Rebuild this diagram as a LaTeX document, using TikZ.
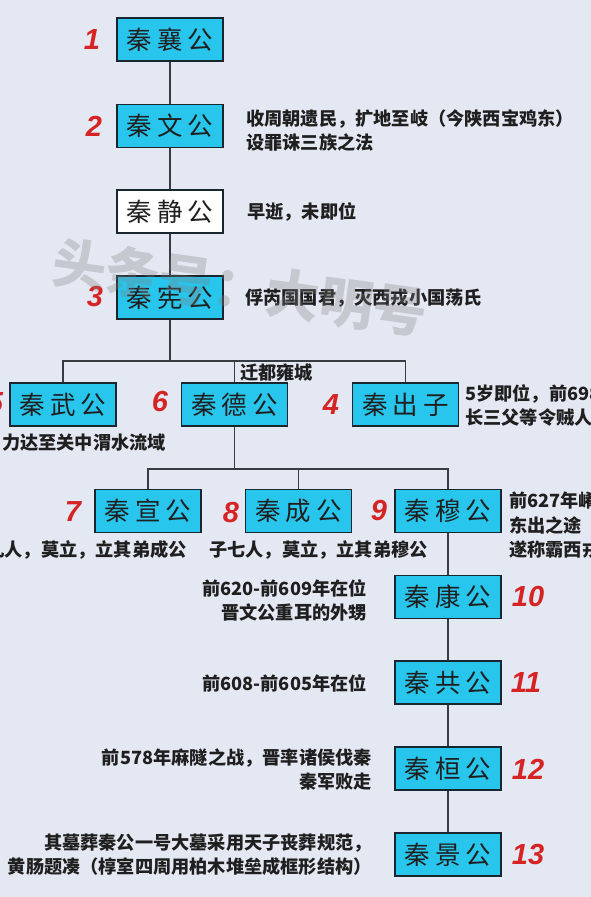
\documentclass[tikz,border=0pt]{standalone}
\usepackage{fontspec}
\newfontfamily\cjkbox{Noto Sans CJK SC}
\newfontfamily\cjknote{Noto Sans CJK SC}
\newfontfamily\numfont{Liberation Sans}
\definecolor{bg}{RGB}{228,232,242}
\definecolor{boxfill}{RGB}{40,198,236}
\definecolor{boxline}{RGB}{25,38,48}
\definecolor{linkc}{RGB}{55,60,66}
\definecolor{numred}{RGB}{214,36,36}
\newcommand\lordname[3]{#1\kern5pt#2\kern5pt#3}
\tikzset{
  lord/.style={draw=boxline, line width=1.8pt, fill=boxfill, minimum width=106pt,
    minimum height=43pt, inner sep=0pt, text=black!88,
    font=\cjkbox\fontsize{25.5}{25.5}\selectfont},
  lordw/.style={lord, fill=white},
  link/.style={draw=linkc, line width=1.6pt},
  num/.style={text=numred, inner sep=0pt,
    font=\numfont\fontsize{29}{29}\selectfont\bfseries\itshape},
  note/.style={text=black!88, inner sep=0pt,
    font=\cjknote\fontsize{18.2}{24.5}\selectfont\bfseries},
  wmark/.style={text=gray, opacity=0.3, inner sep=0pt, rotate=-8,
    font=\cjknote\fontsize{54}{54}\selectfont\bfseries}
}
\begin{document}
\begin{tikzpicture}[x=1pt,y=-1pt]
\useasboundingbox (0,0) rectangle (591,897);
\clip (0,0) rectangle (591,897);
\fill[bg] (0,0) rectangle (591,897);

% main column
\node[lord]  (xiang) at (170,39.5)  {\lordname{秦}{襄}{公}};
\node[lord]  (wen)   at (170,126)   {\lordname{秦}{文}{公}};
\node[lordw] (jing)  at (170,211.5) {\lordname{秦}{静}{公}};
\node[lord]  (xian)  at (170,297.5) {\lordname{秦}{宪}{公}};

\node[lord] (wu)    at (63,404.5)    {\lordname{秦}{武}{公}};
\node[lord] (de)    at (234.5,404.5) {\lordname{秦}{德}{公}};
\node[lord] (chu)   at (405.5,404.5) {\lordname{秦}{出}{子}};

\node[lord] (xuan)  at (148,511)   {\lordname{秦}{宣}{公}};
\node[lord] (cheng) at (298.5,511) {\lordname{秦}{成}{公}};
\node[lord] (mu)    at (448,511)   {\lordname{秦}{穆}{公}};

\node[lord] (kang)  at (448,597)   {\lordname{秦}{康}{公}};
\node[lord] (gong)  at (448,682.5) {\lordname{秦}{共}{公}};
\node[lord] (huan)  at (448,768.5) {\lordname{秦}{桓}{公}};
\node[lord] (jingg) at (448,854.5) {\lordname{秦}{景}{公}};

% connectors
\coordinate (j1) at (170,361);
\coordinate (j2) at (234.5,469);
\draw[link] (xiang) -- (wen);
\draw[link] (wen) -- (jing);
\draw[link] (jing) -- (xian);
\draw[link] (xian.south) -- (j1);
\draw[link] (wu.north) -- (wu.north |- j1) -- (chu.north |- j1) -- (chu.north);
\draw[link] (de.north |- j1) -- (de.north);
\draw[link] (de.south) -- (j2);
\draw[link] (xuan.north) -- (xuan.north |- j2) -- (mu.north |- j2) -- (mu.north);
\draw[link] (cheng.north |- j2) -- (cheng.north);
\draw[link] (mu) -- (kang);
\draw[link] (kang) -- (gong);
\draw[link] (gong) -- (huan);
\draw[link] (huan) -- (jingg);

\node[note, anchor=west] (qian) at (240,373) {迁都雍城};

% numbers
\node[num] (n1)  at (92,40)    {1};
\node[num] (n2)  at (94,126)   {2};
\node[num] (n3)  at (95,297)   {3};
\node[num] (n5)  at (-5,403)   {5};
\node[num] (n6)  at (160,402)  {6};
\node[num] (n4)  at (331,405)  {4};
\node[num] (n7)  at (73,512)   {7};
\node[num] (n8)  at (231,513)  {8};
\node[num] (n9)  at (379,511)  {9};
\node[num] (n10) at (528,597)  {10};
\node[num] (n11) at (526,683)  {11};
\node[num] (n12) at (528,769)  {12};
\node[num] (n13) at (528,855)  {13};

% notes
\node[note, anchor=west, align=left] (t2) at (246,130.5)
  {收周朝遗民，扩地至岐（今陕西宝鸡东）\\设罪诛三族之法};
\node[note, anchor=west] (t2b) at (247,212) {早逝，未即位};
\node[note, anchor=west] (t3) at (245,298) {俘芮国国君，灭西戎小国荡氏};
\node[note, anchor=east] (t5) at (166,443) {力达至关中渭水流域};
\node[note, anchor=west, align=left] (t4) at (465,405.5)
  {5岁即位，前698年\\长三父等令贼人};
\node[note, anchor=east] (t7) at (187,550) {九人，莫立，立其弟成公};
\node[note, anchor=west] (t8) at (209,550) {子七人，莫立，立其弟穆公};
\node[note, anchor=west, align=left] (t9) at (509,525.5)
  {前627年崤\\东出之途\\遂称霸西戎};
\node[note, anchor=east, align=right] (t10) at (367,600.5)
  {前620-前609年在位\\晋文公重耳的外甥};
\node[note, anchor=east] (t11) at (367,683) {前608-前605年在位};
\node[note, anchor=east, align=right] (t12) at (372,769.5)
  {前578年麻隧之战，晋率诸侯伐秦\\秦军败走};
\node[note, anchor=east, align=right] (t13) at (372,854.5)
  {其墓葬秦公一号大墓采用天子丧葬规范，\\黄肠题凑（椁室四周用柏木堆垒成框形结构）};

% watermark
\node[wmark] (wm) at (240,288) {头条号：大明号};
\end{tikzpicture}
\end{document}
